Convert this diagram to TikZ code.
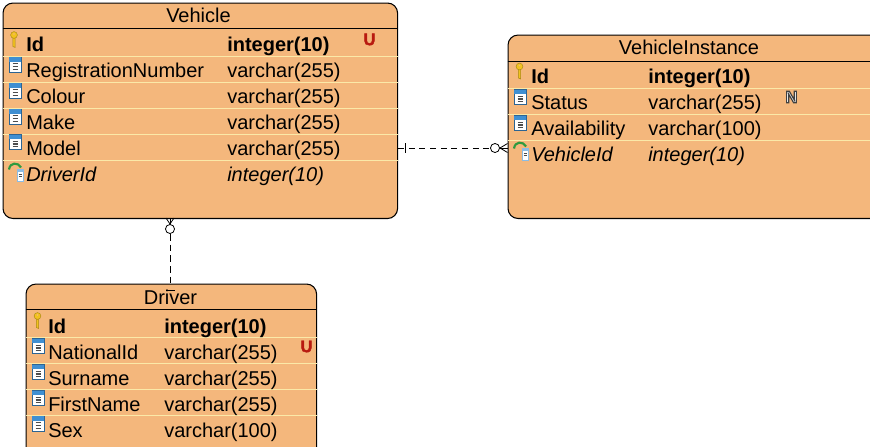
\documentclass[tikz,border=0pt]{standalone}
\usepackage{fontspec}
\setmainfont{Liberation Sans}
\newfontfamily\badgefont[FakeBold=2.2]{Liberation Sans Bold}
\newfontfamily\nbadgefont[FakeBold=7]{Liberation Sans Bold}
\definecolor{tblfill}{HTML}{F4B77C}
\definecolor{sepline}{HTML}{FBE9A8}
\definecolor{keygold}{HTML}{F2C21E}
\definecolor{colblue}{HTML}{3F8FD2}
\definecolor{fkgreen}{HTML}{2E9B3F}
\definecolor{ubadge}{HTML}{B81A10}
\tikzset{
  tbl/.style={draw,fill=tblfill,line width=0.8pt,rounded corners=7.5pt,anchor=north west,inner sep=0pt},
  hdr/.style={line width=0.8pt},
  sep/.style={sepline,line width=0.75pt},
  title/.style={anchor=base,inner sep=0pt,font=\fontsize{15}{18}\selectfont},
  colname/.style={anchor=base west,inner sep=0pt,font=\fontsize{15}{18}\selectfont},
  keyname/.style={colname,font=\fontsize{15}{18}\selectfont\bfseries},
  fkname/.style={colname,font=\fontsize{15}{18}\selectfont\itshape},
  badge/.style={inner sep=0pt,font=\fontsize{12.5}{14}\selectfont},
  rel/.style={line width=0.6pt},
  ring/.style={draw,circle,fill=white,line width=0.6pt,inner sep=0pt,minimum size=6.8pt},
  keyicon/.pic={
    \draw[keygold!70!black,line width=0.35pt,fill=keygold] (-1.2,-7) -- (-1.2,7) -- (1.2,8) -- (1.2,-7)
      arc (0:180:1.2);
    \draw[keygold!70!black,line width=0.35pt,fill=keygold] (0,-4.5) circle (3.4);
    \fill[tblfill] (0,-5.5) circle (0.9);
  },
  colicon/.pic={
    \draw[colblue!70!black,line width=0.4pt,fill=white] (-6,-7.5) rectangle (6,7.5);
    \fill[colblue] (-5.6,-7.1) rectangle (5.6,-3);
    \draw[black!70,line width=0.9pt] (-2.5,-0.8) -- (2.5,-0.8);
    \draw[black!70,line width=0.9pt] (-2.5,2) -- (2.5,2);
    \draw[black!70,line width=0.9pt] (-2.5,4.8) -- (2.5,4.8);
  },
  fkicon/.pic={
    \draw[colblue!60,line width=0.35pt,fill=white] (2,-1) rectangle (8,11);
    \fill[colblue!60] (2.3,-0.7) rectangle (7.7,1.5);
    \draw[black!70,line width=0.6pt] (3.5,4) -- (6.5,4);
    \draw[black!70,line width=0.6pt] (3.5,6.5) -- (6.5,6.5);
    \draw[fkgreen,line width=1.6pt] (-6,-0.5) .. controls (-5,-8) and (3,-8) .. (6,-2.5);
  }
}
\begin{document}
\begin{tikzpicture}[x=0.75pt,y=-0.75pt]
  \path[use as bounding box,clip] (0,0) rectangle (870,446);
  % tables
  \node (vehicle) at (2.5,2.5) [tbl,minimum width=295.9pt,minimum height=161.6pt] {};
  \node (instance) at (507.5,34.5) [tbl,minimum width=294.4pt,minimum height=137.6pt] {};
  \node (driver) at (25.5,283.5) [tbl,minimum width=217.9pt,minimum height=162.75pt] {};
  % header lines
  \draw[hdr] (vehicle.west |- 0,28.5) -- (vehicle.east |- 0,28.5);
  \draw[hdr] (instance.west |- 0,61.5) -- (instance.east |- 0,61.5);
  \draw[hdr] (driver.west |- 0,309.5) -- (driver.east |- 0,309.5);
  % row lines
  \draw[sep] (vehicle.west |- 0,56.5) -- (vehicle.east |- 0,56.5);
  \draw[sep] (vehicle.west |- 0,82.5) -- (vehicle.east |- 0,82.5);
  \draw[sep] (vehicle.west |- 0,108.5) -- (vehicle.east |- 0,108.5);
  \draw[sep] (vehicle.west |- 0,134.5) -- (vehicle.east |- 0,134.5);
  \draw[sep] (vehicle.west |- 0,160.5) -- (vehicle.east |- 0,160.5);
  \draw[sep] (instance.west |- 0,88.5) -- (instance.east |- 0,88.5);
  \draw[sep] (instance.west |- 0,114.5) -- (instance.east |- 0,114.5);
  \draw[sep] (instance.west |- 0,140.5) -- (instance.east |- 0,140.5);
  \draw[sep] (driver.west |- 0,337.5) -- (driver.east |- 0,337.5);
  \draw[sep] (driver.west |- 0,363.5) -- (driver.east |- 0,363.5);
  \draw[sep] (driver.west |- 0,389.5) -- (driver.east |- 0,389.5);
  \draw[sep] (driver.west |- 0,415.5) -- (driver.east |- 0,415.5);
  % titles
  \node (vtitle) at (198.5,22.5) [title] {Vehicle};
  \node (ititle) at (689,54.5) [title] {VehicleInstance};
  \node (dtitle) at (170.5,304) [title] {Driver};
  % Vehicle
  \pic at (14,39.5) {keyicon};
  \pic at (15,64.5) {colicon};
  \pic at (15,90.5) {colicon};
  \pic at (15,116.5) {colicon};
  \pic at (15,142) {colicon};
  \pic at (15,170) {fkicon};
  \node (v1) at (26,51.5) [keyname] {Id};
  \node (v1t) at (227,51.5) [keyname] {integer(10)};
  \node (v2) at (26,77.5) [colname] {RegistrationNumber};
  \node (v2t) at (227,77.5) [colname] {varchar(255)};
  \node (v3) at (26,103.5) [colname] {Colour};
  \node (v3t) at (227,103.5) [colname] {varchar(255)};
  \node (v4) at (26,129.5) [colname] {Make};
  \node (v4t) at (227,129.5) [colname] {varchar(255)};
  \node (v5) at (26,155.5) [colname] {Model};
  \node (v5t) at (227,155.5) [colname] {varchar(255)};
  \node (v6) at (26,181.5) [fkname] {DriverId};
  \node (v6t) at (227,181.5) [fkname] {integer(10)};
  \node (vu) at (369.5,39.5) [badge,text=ubadge] {\badgefont U};
  % VehicleInstance
  \pic at (519.5,71) {keyicon};
  \pic at (520,97) {colicon};
  \pic at (520,123) {colicon};
  \pic at (520,149) {fkicon};
  \node (i1) at (531,83.5) [keyname] {Id};
  \node (i1t) at (648,83.5) [keyname] {integer(10)};
  \node (i2) at (531,109.5) [colname] {Status};
  \node (i2t) at (648,109.5) [colname] {varchar(255)};
  \node (i3) at (531,135.5) [colname] {Availability};
  \node (i3t) at (648,135.5) [colname] {varchar(100)};
  \node (i4) at (531,161.5) [fkname] {VehicleId};
  \node (i4t) at (648,161.5) [fkname] {integer(10)};
  \node (in) at (791.5,97) [badge,text=white] {\nbadgefont\special{pdf:code 0.25 G}N};
  % Driver
  \pic at (37.5,320.5) {keyicon};
  \pic at (38,346) {colicon};
  \pic at (38,372) {colicon};
  \pic at (38,398) {colicon};
  \pic at (38,423.5) {colicon};
  \node (d1) at (48,333) [keyname] {Id};
  \node (d1t) at (164,333) [keyname] {integer(10)};
  \node (d2) at (48,359) [colname] {NationalId};
  \node (d2t) at (164,359) [colname] {varchar(255)};
  \node (d3) at (48,385) [colname] {Surname};
  \node (d3t) at (164,385) [colname] {varchar(255)};
  \node (d4) at (48,411) [colname] {FirstName};
  \node (d4t) at (164,411) [colname] {varchar(255)};
  \node (d5) at (48,437) [colname] {Sex};
  \node (d5t) at (164,437) [colname] {varchar(100)};
  \node (du) at (306.5,346.5) [badge,text=ubadge] {\badgefont U};
  % relationships
  \node (c1) at (495,148) [ring] {};
  \node (c2) at (170,229) [ring] {};
  \coordinate (a1) at (vehicle.east |- c1);
  \coordinate (a2) at (instance.west |- c1);
  \coordinate (b1) at (c2 |- vehicle.south);
  \coordinate (b2) at (c2 |- driver.north);
  \draw[rel,dashed,dash pattern=on 4.5pt off 3.5pt] (a1) -- (c1);
  \draw[rel] (405.5,143) -- (405.5,153);
  \draw[rel] (c1) -- (a2);
  \draw[rel] (500,148) -- (507.5,143.5);
  \draw[rel] (500,148) -- (507.5,152.5);
  \draw[rel,dashed,dash pattern=on 5pt off 3pt] (c2) -- (b2);
  \draw[rel] (c2) -- (b1);
  \draw[rel] (170,224) -- (166,218);
  \draw[rel] (170,224) -- (174,218);
  \draw[rel] (166,290.5) -- (174.5,290.5);
\end{tikzpicture}
\end{document}
